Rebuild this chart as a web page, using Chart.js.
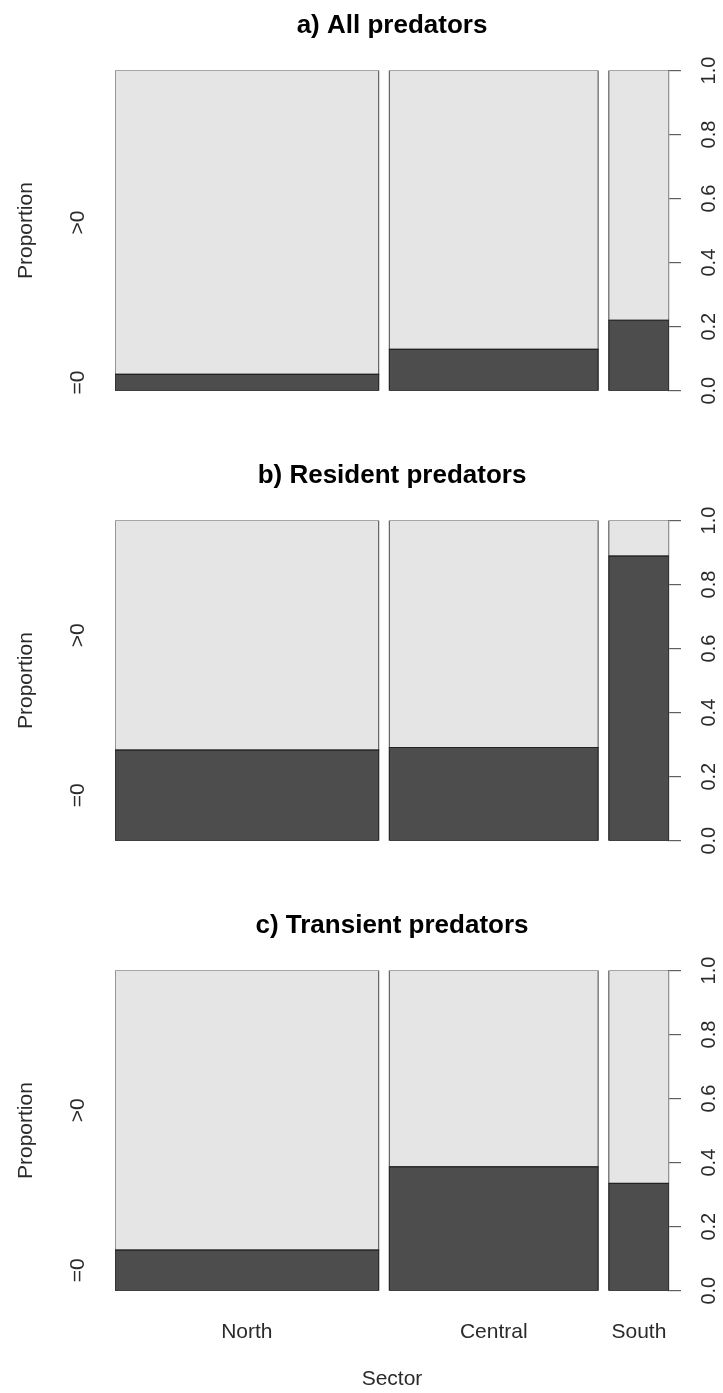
<!DOCTYPE html>
<html><head><meta charset="utf-8">
<script src="https://cdn.jsdelivr.net/npm/chart.js@4.4.1/dist/chart.umd.min.js"></script>
<style>
html,body{margin:0;padding:0;background:#fff;}
#wrap{position:relative;width:723px;height:1393px;overflow:hidden;}
canvas{position:absolute;left:0;}
</style></head><body>
<div id="wrap">
<canvas id="cA" width="723" height="450" style="top:0px;width:723px;height:450px"></canvas>
<canvas id="cB" width="723" height="450" style="top:450px;width:723px;height:450px"></canvas>
<canvas id="cC" width="723" height="493" style="top:900px;width:723px;height:493px"></canvas>
</div>
<script>
// ---- data ----
const categories = ['North', 'Central', 'South'];
const sectorWidths = [0.495, 0.392, 0.113];
const sectorGap = 0.02;
const panelTitles = ['a) All predators', 'b) Resident predators', 'c) Transient predators'];
const propZeroAll = [0.051, 0.129, 0.220];
const propZeroResident = [0.283, 0.291, 0.889];
const propZeroTransient = [0.127, 0.387, 0.335];
const responseLabels = ['=0', '>0'];
const yTickValues = [0, 0.2, 0.4, 0.6, 0.8, 1.0];
const yTickLabels = ['0.0', '0.2', '0.4', '0.6', '0.8', '1.0'];
const xAxisTitle = 'Sector';
const yAxisTitle = 'Proportion';

// ---- styles ----
const FONT = '"Liberation Sans", Arial, Helvetica, sans-serif';
const DARK = '#4d4d4d', LIGHT = '#e5e5e5';
const DARK_BORDER = '#222222', LIGHT_BORDER = '#555555';
const TEXT = '#2a2a2a', AXIS = '#5e5e5e';
Chart.defaults.font.family = FONT;

const colStart = [];
let acc = 0;
sectorWidths.forEach((w, i) => { colStart.push(acc); acc += w + sectorGap; });
const xMax = acc - sectorGap;
const colCenter = sectorWidths.map((w, i) => colStart[i] + w / 2);

function rect(x0, x1, y0, y1) {
  return [{x: x0, y: y0}, {x: x0, y: y1}, {x: x1, y: y1}, {x: x1, y: y0}, {x: x0, y: y0}];
}

function makePanel(id, title, propZero, showX, canvasH) {
  const darks = [], lights = [];
  categories.forEach((c, i) => {
    const x0 = colStart[i], x1 = colStart[i] + sectorWidths[i];
    darks.push({
      label: c + ' =0', data: rect(x0, x1, 0, propZero[i]),
      backgroundColor: DARK, borderColor: DARK_BORDER, borderWidth: 1.2,
      fill: 'shape', pointRadius: 0, pointHoverRadius: 0, tension: 0
    });
    lights.push({
      label: c + ' >0', data: rect(x0, x1, propZero[i], 1),
      backgroundColor: LIGHT, borderColor: LIGHT_BORDER, borderWidth: 1.1,
      fill: 'shape', pointRadius: 0, pointHoverRadius: 0, tension: 0
    });
  });
  const areaBottom = 390.7;
  return new Chart(document.getElementById(id), {
    type: 'line',
    data: { datasets: darks.concat(lights) },
    options: {
      responsive: false, maintainAspectRatio: false, animation: false, events: [],
      layout: { padding: { left: 0, right: 0, top: 0, bottom: 0 } },
      plugins: {
        legend: { display: false }, tooltip: { enabled: false },
        title: { display: true, text: title, color: '#000', fullSize: false,
          font: { size: 26, weight: 'bold', family: FONT, lineHeight: 1.2 },
          padding: { top: 10, bottom: 29.3 } }
      },
      scales: {
        x: {
          type: 'linear', min: 0, max: xMax, bounds: 'data', offset: false, display: showX,
          position: 'bottom',
          afterBuildTicks: s => { s.ticks = colCenter.map(v => ({ value: v })); },
          afterFit: s => { s.height = canvasH - areaBottom; },
          grid: { display: false }, border: { display: false },
          ticks: { autoSkip: false, maxRotation: 0, minRotation: 0, padding: 21, color: TEXT,
            font: { size: 21 }, callback: (v, i) => categories[i] },
          title: { display: true, text: xAxisTitle, color: TEXT, font: { size: 21 },
            padding: { top: 0, bottom: 1.5 } }
        },
        yL: {
          type: 'linear', position: 'left', min: 0, max: 1,
          afterBuildTicks: s => { s.ticks = [{ value: propZero[0] / 2 }, { value: (1 + propZero[0]) / 2 }]; },
          afterFit: s => { s.width = 115; },
          grid: { display: false }, border: { display: false },
          ticks: { autoSkip: false, minRotation: 90, maxRotation: 90, crossAlign: 'center', padding: 17,
            color: TEXT, font: { size: 21 }, callback: (v, i) => responseLabels[i] },
          title: { display: true, text: yAxisTitle, color: TEXT, font: { size: 21 },
            padding: { top: 14, bottom: 0 } }
        },
        y: {
          type: 'linear', position: 'right', min: 0, max: 1,
          afterBuildTicks: s => { s.ticks = yTickValues.map(v => ({ value: v })); },
          afterFit: s => { s.width = 54; },
          grid: { display: true, drawOnChartArea: false, drawTicks: true, tickLength: 12, color: AXIS, lineWidth: 1.2 },
          border: { display: true, color: AXIS, width: 1.2 },
          ticks: { autoSkip: false, minRotation: 90, maxRotation: 90, crossAlign: 'center', padding: 15,
            color: TEXT, font: { size: 20 }, callback: (v, i) => yTickLabels[i] }
        }
      }
    }
  });
}

makePanel('cA', panelTitles[0], propZeroAll, false, 450);
makePanel('cB', panelTitles[1], propZeroResident, false, 450);
makePanel('cC', panelTitles[2], propZeroTransient, true, 493);
</script>
</body></html>
